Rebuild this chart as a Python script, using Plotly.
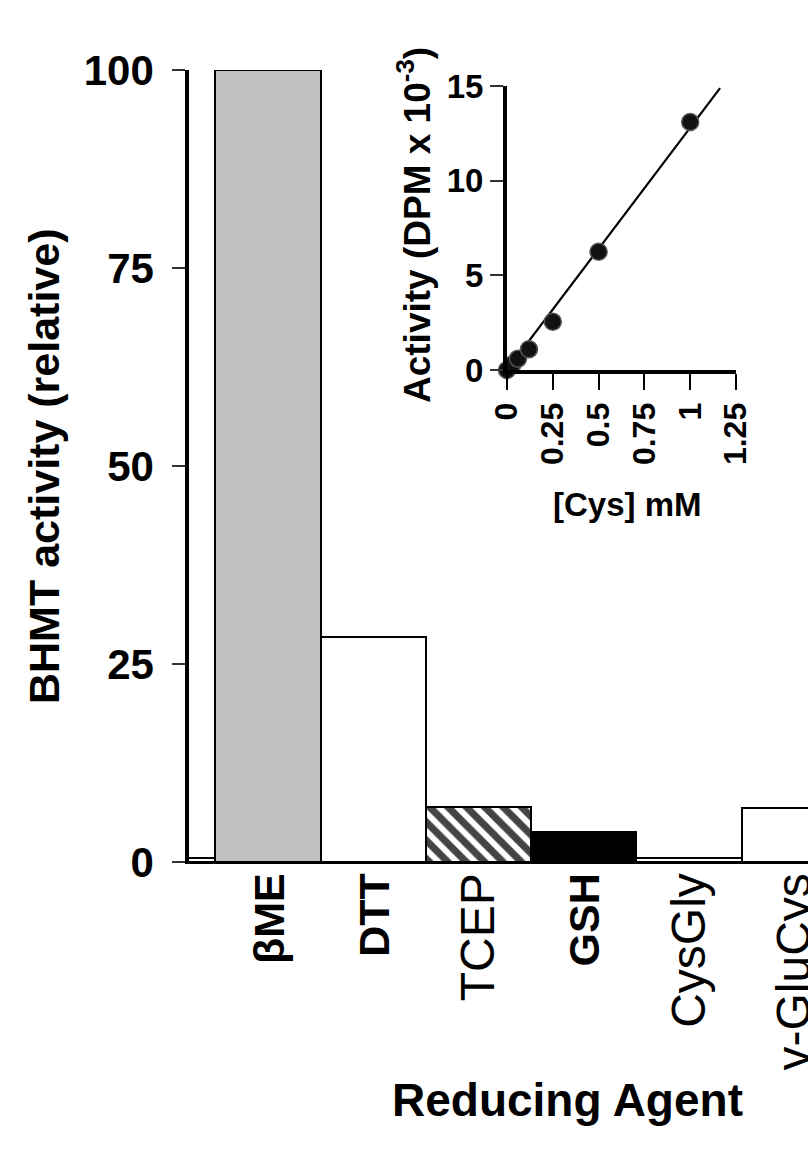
import numpy as np
import plotly.graph_objects as go

# ---- data ----
agents = ["", "βME", "DTT", "TCEP", "GSH", "CysGly", "γ-GluCys"]
activity = [0.5, 100, 28.4, 6.9, 3.8, 0.5, 6.8]
bold_label = [False, True, True, False, True, False, False]
bar_colors = ["white", "#c0c0c0", "white", "white", "black", "white", "white"]
bar_patterns = ["", "", "", "\\", "", "", ""]

cys_mM = [0.0, 0.03, 0.06, 0.12, 0.25, 0.5, 1.0]
dpm_e3 = [0.0, 0.3, 0.6, 1.1, 2.55, 6.25, 13.1]
y_ticks = [0, 25, 50, 75, 100]
inset_x_ticks = [0, 0.25, 0.5, 0.75, 1, 1.25]
inset_x_ticktext = ["0", "0.25", "0.5", "0.75", "1", "1.25"]
inset_y_ticks = [0, 5, 10, 15]

FONT = "Arial, Liberation Sans, Helvetica, sans-serif"
W, H = 808, 1160
ML, MR, MT, MB = 189, 0, 70, 298
PW, PH = W - ML - MR, H - MT - MB


def px_x(p):
    return (p - ML) / PW


def px_y(p):
    return (H - MB - p) / PH


positions = list(range(len(agents)))
tick_pos, ticktext = [], []
for pos, name, b in zip(positions, agents, bold_label):
    if not name:
        continue
    tick_pos.append(pos)
    if b:
        ticktext.append('<b><span style="font-size:43px">%s</span></b>' % name)
    else:
        ticktext.append(name)

fig = go.Figure()
fig.add_trace(go.Bar(
    x=positions, y=activity, width=1.0,
    marker=dict(color=bar_colors, line=dict(color="black", width=2),
                pattern=dict(shape=bar_patterns, fgcolor="black", fgopacity=1,
                             size=13, solidity=0.55)),
    showlegend=False, hoverinfo="skip",
))

# regression through origin for the inset line
xs = np.array(cys_mM)
ys = np.array(dpm_e3)
slope = float((xs * ys).sum() / (xs * xs).sum())
FIT_END = 1.163
fit_x = [0.0, FIT_END]
fit_y = [slope * v for v in fit_x]

fig.add_trace(go.Scatter(x=fit_x, y=fit_y, mode="lines", xaxis="x2", yaxis="y2",
                         line=dict(color="black", width=2.2), showlegend=False,
                         cliponaxis=False))
fig.add_trace(go.Scatter(x=cys_mM, y=dpm_e3, mode="markers", xaxis="x2", yaxis="y2",
                         marker=dict(size=17, color="#111111", line=dict(color="#555555", width=1.5)),
                         showlegend=False, cliponaxis=False))

fig.update_layout(
    width=W, height=H,
    margin=dict(l=ML, r=MR, t=MT, b=MB, autoexpand=False),
    paper_bgcolor="white", plot_bgcolor="rgba(0,0,0,0)",
    font=dict(family=FONT, color="black"),
    bargap=0,
    xaxis=dict(range=[0.25, 6.13], tickvals=tick_pos, ticktext=ticktext,
               tickangle=-90, ticks="", showgrid=False, zeroline=False,
               showline=True, linecolor="black", linewidth=2, automargin=False,
               ticklabeloverflow="allow",
               tickfont=dict(size=48, family=FONT), ticklabelstandoff=-10),
    yaxis=dict(range=[0, 100], tickvals=y_ticks, ticks="outside", ticklen=13,
               tickwidth=1.5, tickcolor="#333333", showgrid=False, zeroline=False,
               showline=True, linecolor="black", linewidth=3.5, automargin=False,
               tickfont=dict(size=42, family=FONT, weight="bold"), ticklabelstandoff=10),
    xaxis2=dict(domain=[px_x(507), px_x(736)], anchor="y2", range=[0, 1.25],
                tickvals=inset_x_ticks, ticktext=inset_x_ticktext, tickangle=-90,
                ticks="outside", ticklen=16, tickwidth=2, tickcolor="black",
                showline=True, linecolor="black", linewidth=4, showgrid=False, zeroline=False,
                automargin=False,
                tickfont=dict(size=32, family=FONT, weight="bold")),
    yaxis2=dict(domain=[px_y(370), px_y(86)], anchor="x2", range=[0, 15],
                tickvals=inset_y_ticks, ticks="outside", ticklen=13, tickwidth=1.5,
                tickcolor="#333333", showline=True, linecolor="black", linewidth=4,
                showgrid=False, zeroline=False, automargin=False,
                tickfont=dict(size=33, family=FONT, weight="bold")),
    annotations=[
        dict(text="BHMT activity (relative)", xref="paper", yref="paper",
             x=px_x(44), y=px_y(466), textangle=-90, showarrow=False,
             xanchor="center", yanchor="middle",
             font=dict(size=43, family=FONT, weight="bold")),
        dict(text="Reducing Agent", xref="paper", yref="paper",
             x=px_x(567), y=px_y(1100), showarrow=False,
             xanchor="center", yanchor="middle",
             font=dict(size=46, family=FONT, weight="bold")),
        dict(text="Activity (DPM x 10<sup>-3</sup>)", xref="paper", yref="paper",
             x=px_x(414), y=px_y(225), textangle=-90, showarrow=False,
             xanchor="center", yanchor="middle",
             font=dict(size=37, family=FONT, weight="bold")),
        dict(text="[Cys] mM", xref="paper", yref="paper",
             x=px_x(627), y=px_y(504), showarrow=False,
             xanchor="center", yanchor="middle",
             font=dict(size=33, family=FONT, weight="bold")),
    ],
)

fig.write_html("out.html", config={"displayModeBar": False},
               post_script="document.body.style.margin='0px';")
